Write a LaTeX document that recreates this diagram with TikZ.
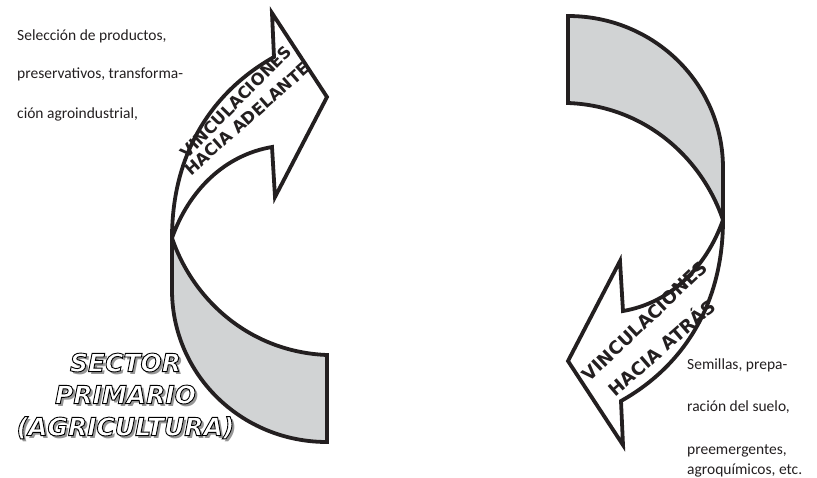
\documentclass[tikz,border=0pt]{standalone}
\usepackage{fontspec}
\setmainfont{Carlito}
\newfontfamily\headfont{DejaVu Sans}
\definecolor{ink}{RGB}{35,31,32}
\definecolor{band}{RGB}{209,211,212}
\definecolor{shade}{RGB}{150,150,150}
\newcommand{\outlined}[1]{\special{pdf:literal direct 2 Tr 0.9 w 0 G}#1\special{pdf:literal direct 0 Tr}}
\tikzset{
  strip/.style={draw=ink,line width=3.8pt,line join=miter},
  note/.style={anchor=base west,inner sep=0pt,text=ink,font=\fontsize{15.5}{18}\selectfont},
  arrow text/.style={inner sep=0pt,text height={0.73*#1pt},text depth=0pt,text=ink,
    font=\headfont\bfseries\fontsize{#1}{#1}\selectfont},
  sector/.style={align=center,inner sep=0pt,font=\headfont\bfseries\itshape\fontsize{25}{32}\selectfont},
}
\begin{document}
\begin{tikzpicture}[x=1pt,y=-1pt]
  \useasboundingbox (0,0) rectangle (817,477);
  % the twisted strip, once as is and once turned half round
  \foreach \a in {0,180}{
    \begin{scope}[rotate around={\a:(447.5,229)}]
      \fill[band] (172,238) -- (172,290) .. controls (172,374) and (241,442) .. (327,442)
        -- (327,355) .. controls (250,352) and (193,300) .. (172,238) -- cycle;
      \fill[white] (172,238) .. controls (189,190) and (225,155) .. (272,147) -- (275,197)
        -- (327,97) -- (272,13) -- (274,57) .. controls (215,90) and (172,150) .. (172,238);
      \draw[strip] (172,238) .. controls (189,190) and (225,155) .. (272,147) -- (275,197)
        -- (327,97) -- (272,13) -- (274,57) .. controls (215,90) and (172,150) .. (172,238)
        -- (172,290) .. controls (172,374) and (241,442) .. (327,442) -- (327,355)
        .. controls (250,352) and (193,300) .. (172,238);
    \end{scope}
  }
  \node[arrow text=16.4,rotate=45.5] (fwd1) at (236,102) {VINCULACIONES};
  \node[arrow text=16.4,rotate=41.5] (fwd2) at (247,119) {HACIA ADELANTE};
  \node[arrow text=18,rotate=43.5] (back1) at (645,321) {VINCULACIONES};
  \node[arrow text=18,rotate=41] (back2) at (662,348) {HACIA ATRÁS};
  % side notes
  \node[note] (sel1) at (17,40) {Selección de productos,};
  \node[note] (sel2) at (17,78) {preservativos, transforma-};
  \node[note] (sel3) at (17,118) {ción agroindustrial,};
  \node[note] (sem1) at (687,369) {Semillas, prepa-};
  \node[note] (sem2) at (687,411) {ración del suelo,};
  \node[note] (sem3) at (687,454) {preemergentes,};
  \node[note] (sem4) at (687,474) {agroquímicos, etc.};
  % outlined title with its shadow
  \node[sector,text=shade] (sector shadow) at (128,398.5) {SECTOR\\PRIMARIO\\(AGRICULTURA)};
  \node[sector,text=white] (sector) at (125.5,396) {\outlined{SECTOR\\PRIMARIO\\(AGRICULTURA)}};
\end{tikzpicture}
\end{document}
